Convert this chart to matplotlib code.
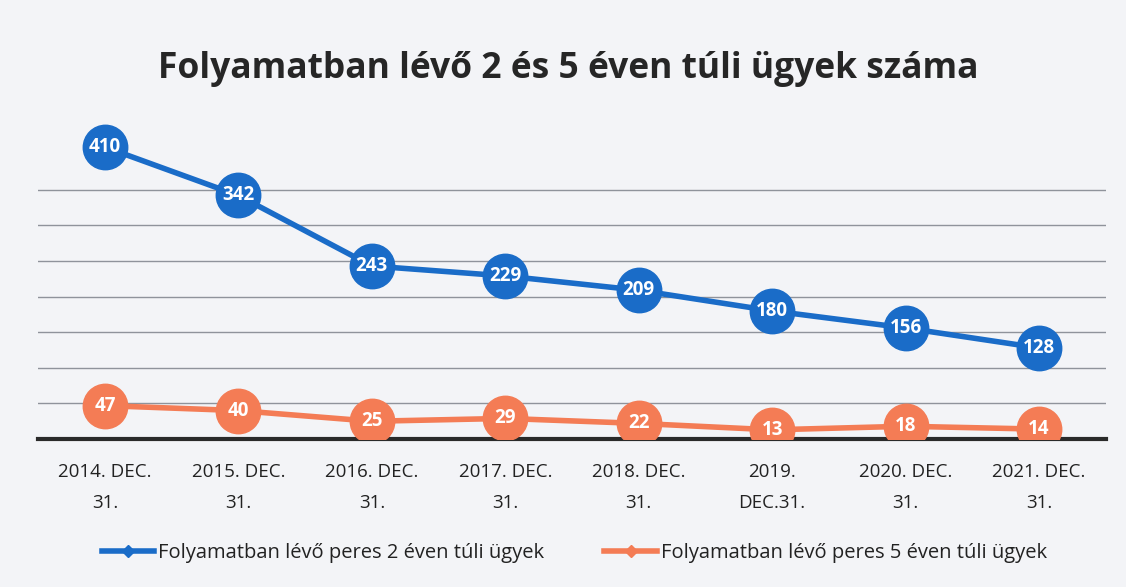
import matplotlib.pyplot as plt

categories = ['2014. DEC.\n31.', '2015. DEC.\n31.', '2016. DEC.\n31.', '2017. DEC.\n31.',
              '2018. DEC.\n31.', '2019.\nDEC.31.', '2020. DEC.\n31.', '2021. DEC.\n31.']
two_years = [410, 342, 243, 229, 209, 180, 156, 128]
five_years = [47, 40, 25, 29, 22, 13, 18, 14]
labels = ['Folyamatban lévő peres 2 éven túli ügyek', 'Folyamatban lévő peres 5 éven túli ügyek']

blue = '#1a6cc8'
orange = '#f47c55'

plt.rcParams['font.family'] = ['Open Sans', 'DejaVu Sans']

fig = plt.figure(figsize=(11.26, 5.87), dpi=100)
fig.patch.set_facecolor('#f3f4f7')
ax = fig.add_axes([0.034, 0.252, 0.948, 0.546])
ax.set_facecolor('none')

x = range(len(categories))
for vals, col, lab in [(two_years, blue, labels[0]), (five_years, orange, labels[1])]:
    ax.plot(x, vals, '-', color=col, lw=4, zorder=3)
    ax.plot(x, vals, 'o', color=col, ms=32, zorder=4)
    ax.plot([], [], '-D', color=col, lw=4, ms=6, label=lab)
    for xi, v in zip(x, vals):
        ax.text(xi, v, str(v), ha='center', va='center', color='white',
                fontsize=13.5, fontweight='bold', zorder=5)

ax.set_xlim(-0.5, 7.5)
ax.set_ylim(0, 450)
ax.set_yticks(range(50, 400, 50))
ax.yaxis.grid(True, color='#8f939b', lw=1)
ax.tick_params(left=False, labelleft=False, bottom=False)
for s in ['top', 'right', 'left']:
    ax.spines[s].set_visible(False)
ax.spines['bottom'].set_color('#2a2a2a')
ax.spines['bottom'].set_linewidth(3)
ax.set_xticks(list(x))
ax.set_xticklabels(categories, fontsize=13.5, linespacing=1.9, color='#222222')
ax.tick_params(axis='x', pad=14)

fig.text(0.505, 0.883, 'Folyamatban lévő 2 és 5 éven túli ügyek száma', ha='center', va='center',
         fontsize=25.5, fontweight='bold', color='#262626')

leg = fig.legend(loc='center', bbox_to_anchor=(0.51, 0.058), ncol=2, frameon=False,
                 fontsize=14.5, handlelength=2.6, handletextpad=0.2, columnspacing=3.0)
for t in leg.get_texts():
    t.set_color('#222222')

fig.savefig('out.png', dpi=100, facecolor=fig.get_facecolor())
